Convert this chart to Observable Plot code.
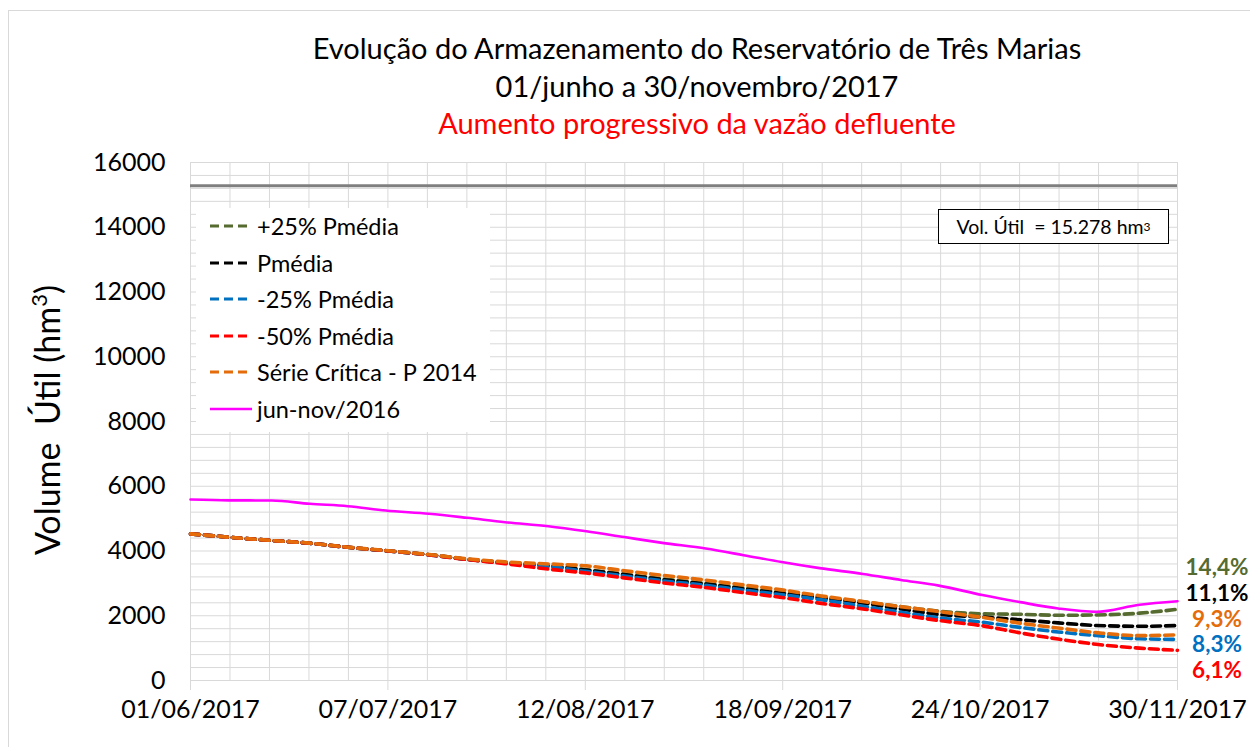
<!DOCTYPE html>
<html><head><meta charset="utf-8">
<script src="https://cdn.jsdelivr.net/npm/d3@7"></script>
<script src="https://cdn.jsdelivr.net/npm/@observablehq/plot@0.6"></script>
<style>
body{margin:0;background:#fff;}
#wrap{position:relative;width:1250px;height:747px;overflow:hidden;font-family:Lato,"Open Sans",sans-serif;color:#000;background:#fff;}
#frame{position:absolute;left:8px;top:10px;width:1400px;height:900px;border:1px solid #d9d9d9;}
#plot{position:absolute;left:0;top:0;}
#titles{position:absolute;left:0;top:29px;width:1394px;text-align:center;font-size:29px;line-height:37.5px;}
#legend{position:absolute;left:196px;top:208px;width:294px;height:224px;background:#fff;font-size:23.5px;}
.li{position:absolute;left:14px;height:30px;display:flex;align-items:center;white-space:nowrap;}
.li svg{margin-right:5px;}
#volbox{position:absolute;left:938px;top:209px;width:229px;height:33px;border:1.5px solid #000;background:#fff;font-size:19.5px;display:flex;align-items:center;justify-content:center;white-space:pre;}
#ends{position:absolute;left:1177px;top:554px;width:80px;text-align:center;font-weight:bold;font-size:22.5px;line-height:25.8px;}
#ylab{position:absolute;left:46px;top:420px;transform:translate(-50%,-50%) rotate(-90deg);font-size:34px;white-space:pre;}
</style></head><body>
<div id="wrap">
  <div id="frame"></div>
  <div id="plot"></div>
  <div id="titles"></div>
  <div id="legend"></div>
  <div id="volbox"></div>
  <div id="ends"></div>
  <div id="ylab"></div>
</div>
<script>
// ---- data ----
const dates = ["2017-06-01","2017-06-08","2017-06-16","2017-06-23","2017-06-30","2017-07-07","2017-07-15","2017-07-22","2017-07-29","2017-08-06","2017-08-13","2017-08-20","2017-08-27","2017-09-04","2017-09-11","2017-09-18","2017-09-25","2017-10-03","2017-10-10","2017-10-17","2017-10-25","2017-11-01","2017-11-08","2017-11-15","2017-11-23","2017-11-30"];
const plus25   = [4530,4427,4324,4240,4115,4010,3885,3745,3640,3545,3420,3285,3140,3000,2860,2720,2580,2430,2280,2141,2060,2045,2015,2025,2080,2200];
const pmedia   = [4530,4427,4324,4240,4115,4010,3885,3745,3640,3540,3410,3270,3120,2980,2830,2690,2550,2390,2210,2040,1960,1875,1780,1700,1675,1696];
const minus25  = [4530,4427,4324,4240,4115,4010,3880,3740,3630,3520,3370,3230,3080,2940,2790,2650,2500,2290,2110,1935,1800,1640,1500,1390,1290,1268];
const minus50  = [4530,4427,4324,4240,4115,4010,3880,3735,3610,3440,3320,3170,3020,2870,2715,2565,2390,2210,2030,1853,1690,1470,1280,1120,1000,932];
const critica  = [4530,4427,4324,4242,4118,4015,3892,3758,3665,3600,3540,3390,3250,3100,2950,2800,2620,2440,2280,2131,1950,1770,1620,1480,1385,1410];
const jn2016   = [5590,5565,5560,5458,5384,5251,5149,5025,4890,4766,4610,4430,4252,4076,3871,3658,3470,3290,3105,2930,2640,2420,2224,2120,2340,2449];

const seriesNames  = ["+25% Pmédia","Pmédia","-25% Pmédia","-50% Pmédia","Série Crítica - P 2014","jun-nov/2016"];
const seriesColors = ["#556b2f","#000000","#0070c0","#ff0000","#e46c0a","#ff00ff"];
const seriesDashed = [true,true,true,true,true,false];
const seriesValues = [plus25,pmedia,minus25,minus50,critica,jn2016];

const endLabels      = ["14,4%","11,1%","9,3%","8,3%","6,1%"];
const endLabelColors = ["#556b2f","#000000","#e46c0a","#0070c0","#ff0000"];

const xTickLabels = ["01/06/2017","07/07/2017","12/08/2017","18/09/2017","24/10/2017","30/11/2017"];
const yTicks = [0,2000,4000,6000,8000,10000,12000,14000,16000];
const volUtil = 15278;

const titleLines = ["Evolução do Armazenamento do Reservatório de Três Marias","01/junho a 30/novembro/2017","Aumento progressivo da vazão defluente"];
const titleColors = ["#000","#000","#ff0000"];
const yTitle = "Volume  Útil (hm<sup style='font-size:22px'>3</sup>)";
const volText = "Vol. Útil  = 15.278 hm<sup style='font-size:12px;vertical-align:8px'>3</sup>";

// ---- build ----
const parse = d3.utcParse("%Y-%m-%d");
const x0 = parse(dates[0]), x1 = parse(dates[dates.length-1]);
const span = x1 - x0;
const xTicks = d3.range(6).map(i => new Date(+x0 + i*span/5));
const xGrid = d3.range(26).map(i => new Date(+x0 + i*span/25));
const yGrid = d3.range(0, 16001, 400);

const lineMarks = seriesValues.map((vals, s) => Plot.line(
  vals.map((v,i) => ({date: parse(dates[i]), value: v, series: seriesNames[s]})),
  {x: "date", y: "value", stroke: seriesColors[s],
   strokeWidth: seriesDashed[s] ? 3.6 : 2.6,
   strokeDasharray: seriesDashed[s] ? "9,5" : null,
   curve: "monotone-x"}));

const chart = Plot.plot({
  width: 1250, height: 747,
  marginTop: 162, marginBottom: 67, marginLeft: 190, marginRight: 73,
  style: {fontFamily: "Lato, 'Open Sans', sans-serif", fontSize: "25px", color: "#000", background: "transparent"},
  x: {type: "utc", domain: [x0, x1], label: null},
  y: {domain: [0, 16000], label: null},
  marks: [
    Plot.ruleY(yGrid, {stroke: "#d9d9d9", strokeWidth: 1}),
    Plot.ruleX(xGrid, {stroke: "#d9d9d9", strokeWidth: 1}),
    Plot.ruleY([volUtil], {stroke: "#7f7f7f", strokeWidth: 3}),
    ...lineMarks,
    Plot.axisY({ticks: yTicks, tickSize: 0, tickPadding: 25, tickFormat: d3.format("d")}),
    Plot.axisX({ticks: xTicks, tickSize: 10, tickPadding: 10, stroke: "#d9d9d9", fill: "#000",
      tickFormat: d => xTickLabels[Math.round((d - x0) / span * 5)]})
  ]
});
document.getElementById("plot").appendChild(chart);

document.getElementById("titles").innerHTML =
  titleLines.map((t,i) => `<div style="color:${titleColors[i]}">${t}</div>`).join("");

const leg = document.getElementById("legend");
seriesNames.forEach((n, s) => {
  const d = document.createElement("div");
  d.className = "li";
  d.style.top = (3 + s*36.6) + "px";
  d.innerHTML = `<svg width="42" height="10"><line x1="0" x2="42" y1="5" y2="5" stroke="${seriesColors[s]}" stroke-width="${seriesDashed[s]?3.2:2.6}" ${seriesDashed[s]?'stroke-dasharray="9,5"':''}/></svg><span>${n}</span>`;
  leg.appendChild(d);
});

document.getElementById("volbox").innerHTML = volText;
document.getElementById("ends").innerHTML =
  endLabels.map((t,i) => `<div style="color:${endLabelColors[i]}">${t}</div>`).join("");
document.getElementById("ylab").innerHTML = yTitle;
</script>
</body></html>
